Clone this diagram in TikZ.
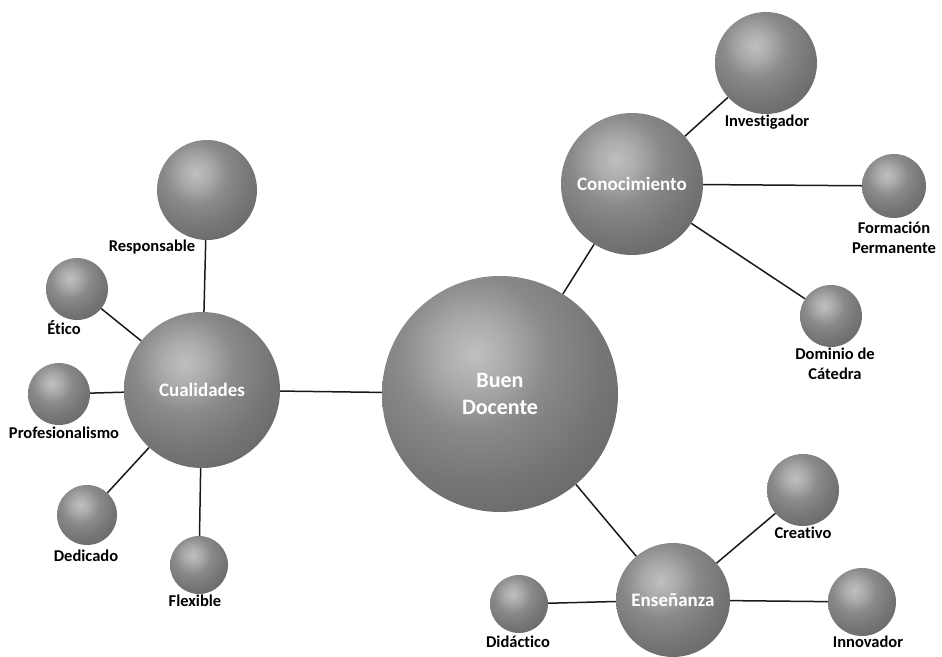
\documentclass[tikz,border=0pt]{standalone}
\usepackage{fontspec}
\setmainfont{Carlito}[Ligatures=NoCommon]
\usetikzlibrary{calc}
\pgfdeclareradialshading{gsphere}{\pgfpointorigin}{%
color(0bp)=(black!25); color(5bp)=(black!33); color(11bp)=(black!46);
color(19bp)=(black!54); color(26bp)=(black!59); color(31bp)=(black!67);
color(36bp)=(black!80); color(41bp)=(black!87); color(45bp)=(black!80);
color(48.6bp)=(black!68); color(50bp)=(black!66)}
\tikzset{
  ball/.style={circle, inner sep=0pt, minimum size=#1,
    path picture={\shade[shading=gsphere]
      ($(path picture bounding box.center)+({-0.11*#1},{0.17*#1})$) circle ({0.725*#1});},
    text=white, font=\bfseries\fontsize{19}{23}\selectfont, align=center},
  lbl/.style={text=black, font=\bfseries\fontsize{16.5}{20}\selectfont, align=center, inner sep=0pt},
  link/.style={line width=1.5pt, black!90}
}
\begin{document}
\begin{tikzpicture}[x=1pt,y=-1pt]
\useasboundingbox (0,0) rectangle (942,656);
% hubs
\node[ball=236pt, font=\bfseries\fontsize{22}{27}\selectfont] (bd) at (500,394) {Buen\\Docente};
\node[ball=156pt] (cual) at (202,390) {Cualidades};
\node[ball=142pt] (con) at (632,184) {Conocimiento};
\node[ball=114pt] (ens) at (673,600) {Enseñanza};
% leaves
\node[ball=102pt] (inv) at (766,63) {};
\node[ball=64pt] (form) at (894,186) {};
\node[ball=62pt] (dom) at (831,316) {};
\node[ball=72pt] (crea) at (803,490) {};
\node[ball=68pt] (inno) at (862,602) {};
\node[ball=58pt] (did) at (519,604) {};
\node[ball=100pt] (resp) at (207,190) {};
\node[ball=62pt] (etico) at (77,289) {};
\node[ball=62pt] (prof) at (59,394) {};
\node[ball=60pt] (ded) at (87,515) {};
\node[ball=58pt] (flex) at (199,565) {};
% labels
\node[lbl] (linv) at (767,122) {Investigador};
\node[lbl] (lform) at (894,238) {Formación\\Permanente};
\node[lbl] (ldom) at (835,364) {Dominio de\\Cátedra};
\node[lbl] (lcrea) at (803,533) {Creativo};
\node[lbl] (linno) at (868,642) {Innovador};
\node[lbl] (ldid) at (518,642) {Didáctico};
\node[lbl] (lresp) at (152,247) {Responsable};
\node[lbl] (letico) at (64,328) {Ético};
\node[lbl] (lprof) at (64,433) {Profesionalismo};
\node[lbl] (lded) at (86,556) {Dedicado};
\node[lbl] (lflex) at (195,601) {Flexible};
% connectors
\draw[link] (cual) -- (bd);
\draw[link] (bd) -- (con);
\draw[link] (bd) -- (ens);
\draw[link] (con) -- (inv);
\draw[link] (con) -- (form);
\draw[link] (con) -- (dom);
\draw[link] (ens) -- (crea);
\draw[link] (ens) -- (inno);
\draw[link] (ens) -- (did);
\draw[link] (cual) -- (resp);
\draw[link] (cual) -- (etico);
\draw[link] (cual) -- (prof);
\draw[link] (cual) -- (ded);
\draw[link] (cual) -- (flex);
\end{tikzpicture}
\end{document}
